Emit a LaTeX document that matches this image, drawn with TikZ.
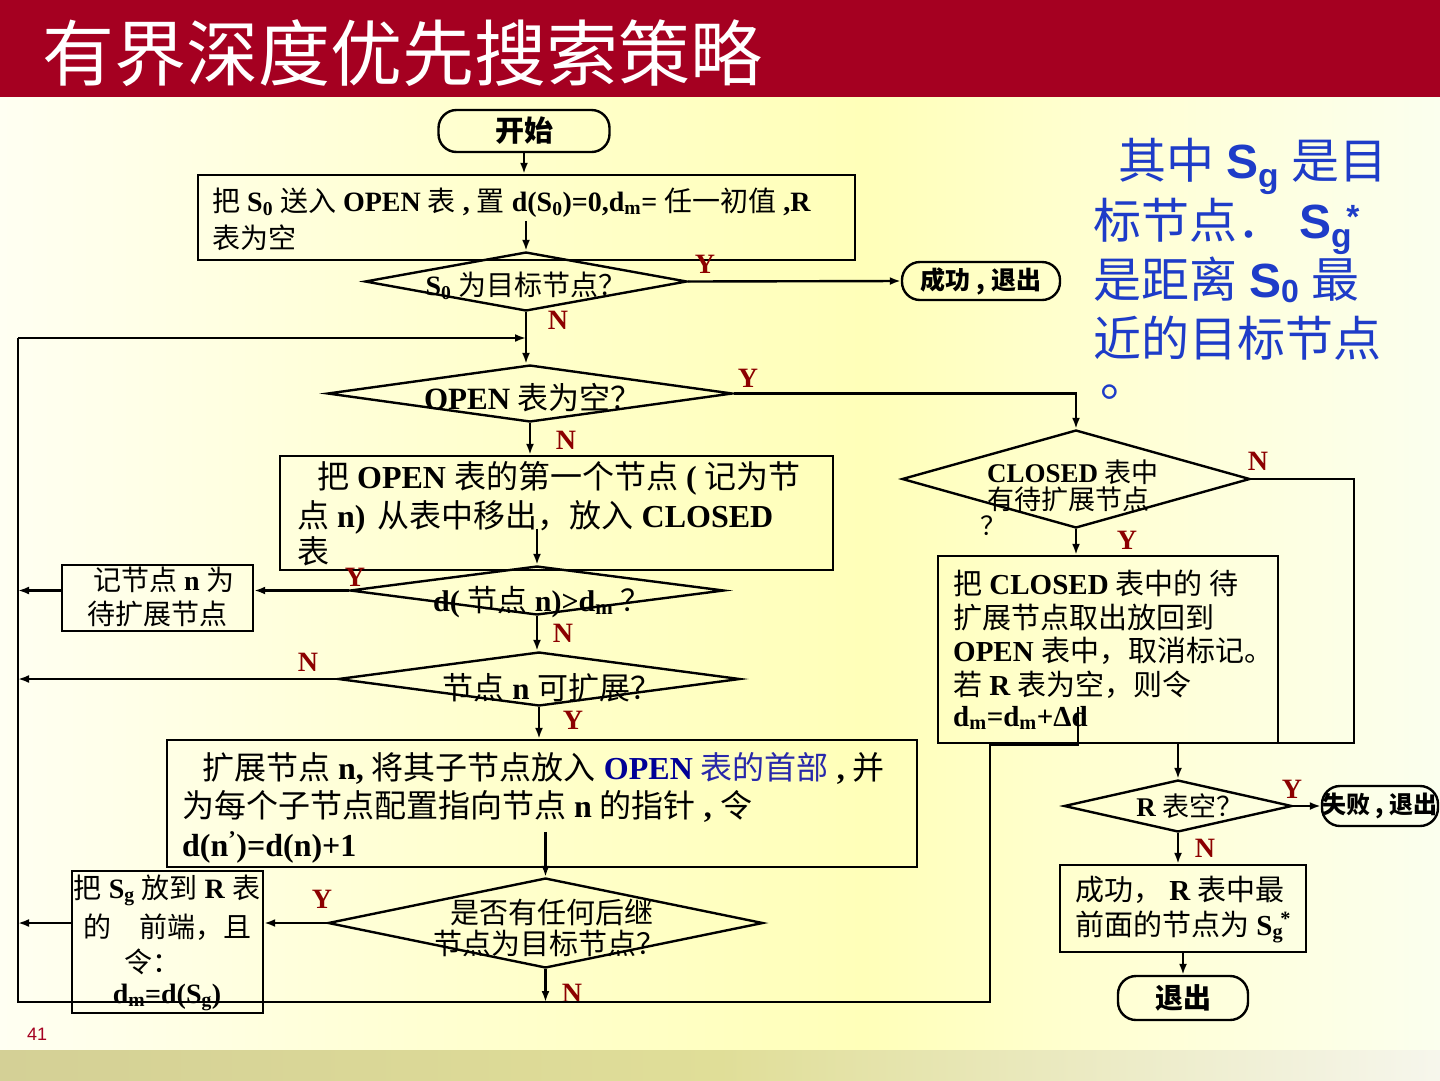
\documentclass[tikz,border=0pt]{standalone}
\usepackage{fontspec}
\setmainfont{Liberation Serif}
\newfontfamily\cjkf{Noto Sans CJK SC}
\newfontfamily\arialf{Liberation Sans}
\usetikzlibrary{shapes.geometric,arrows.meta,calc}
\definecolor{titlered}{RGB}{165,0,33}
\definecolor{ynred}{RGB}{140,0,0}
\definecolor{bluetxt}{RGB}{30,60,200}
\definecolor{openblue}{RGB}{0,0,150}
\definecolor{cjkblue}{RGB}{40,40,170}
\definecolor{bgA}{RGB}{255,255,242}
\definecolor{bgB}{RGB}{255,255,205}
\definecolor{bgC}{RGB}{255,255,185}
\definecolor{bgD}{RGB}{255,255,215}
\definecolor{bgE}{RGB}{251,255,238}
\definecolor{bdA}{RGB}{212,208,150}
\definecolor{bdB}{RGB}{224,222,152}
\definecolor{bdC}{RGB}{246,246,236}
\pgfdeclarehorizontalshading{bgsh}{100bp}{color(0bp)=(bgA); color(25bp)=(bgA); color(42bp)=(bgB); color(55bp)=(bgC); color(65bp)=(bgD); color(75bp)=(bgE); color(100bp)=(bgE)}
\pgfdeclarehorizontalshading{bdsh}{100bp}{color(0bp)=(bdA); color(25bp)=(bdA); color(50bp)=(bdB); color(75bp)=(bdC); color(100bp)=(bdC)}
\newcommand{\zh}[1]{{\cjkf #1}}
\newcommand{\Sub}[1]{\textsubscript{#1}}
\begin{document}
\begin{tikzpicture}[x=1pt,y=-1pt,
  ln/.style={line width=2.4pt},
  arr/.style={line width=2.4pt,-{Latex[length=11pt,width=8pt]}},
  boxn/.style={draw,line width=2.4pt,rectangle,inner sep=0},
  dia/.style={draw,line width=2.4pt,diamond,inner sep=0},
  stad/.style={draw,line width=2.4pt,rectangle,rounded corners=18pt,inner sep=0,font=\fontsize{29pt}{29pt}\selectfont\cjkf\bfseries},
  fs/.style={font=\fontsize{#1pt}{#1pt}\selectfont},
  tw/.style={inner sep=0,anchor=base west},
  tc/.style={inner sep=0,anchor=base},
  yn/.style={inner sep=0,text=ynred,font=\fontsize{28pt}{28pt}\selectfont\bfseries}]
\useasboundingbox (0,0) rectangle (1440,1080);
% background
\shade[shading=bgsh] (0,97) rectangle (1440,1050);
\shade[shading=bdsh] (0,1050) rectangle (1440,1080);
\fill[titlered] (0,0) rectangle (1440,97);
\node[tw,text=white,font=\fontsize{72pt}{72pt}\selectfont\cjkf] (title) at (42,80) {有界深度优先搜索策略};
\node[tw,text=titlered,font=\fontsize{18pt}{18pt}\selectfont\arialf] (pgno) at (27,1040) {41};

% right blue note
\begin{scope}[every node/.style={tw,text=bluetxt,font=\fontsize{48pt}{48pt}\selectfont}]
\node (b1) at (1118,178) {\zh{其中} {\arialf\bfseries S\Sub{g}} \zh{是目}};
\node (b2) at (1093,238) {\zh{标节点．}\hspace{14pt}{\arialf\bfseries S\Sub{g}\kern-0.12em\textsuperscript{*}}};
\node (b3) at (1093,297) {\zh{是距离} {\arialf\bfseries S\raisebox{-5pt}{\fontsize{32pt}{32pt}\selectfont 0}} \zh{最}};
\node (b4) at (1093,356) {\zh{近的目标节点}};
\node (b5) at (1100,396) {\zh{。}};
\end{scope}

% main nodes
\node[stad,minimum width=171pt,minimum height=42pt] (start) at (524,131) {开始};
\node[boxn,minimum width=657pt,minimum height=85pt] (init) at (526.5,217.5) {};
\node[tw,fs=28] (init1) at (212,211) {\zh{把} \textbf{S\Sub{0}} \zh{送入} \textbf{OPEN} \zh{表} \textbf{,} \zh{置} \textbf{d(S\Sub{0})=0,d\Sub{m}=} \zh{任一初值} \textbf{,R}};
\node[tw,fs=28] (init2) at (212,248) {\zh{表为空}};

\node[dia,minimum width=322pt,minimum height=59pt] (d1) at (526,281.5) {};
\node[tc,fs=28] (d1t) at (526,295) {\textbf{S\Sub{0}} \zh{为目标节点？}};
\node[stad,minimum width=158pt,minimum height=38pt,font=\fontsize{25pt}{25pt}\selectfont\cjkf\bfseries] (succ) at (981,281) {成功 , 退出};

\node[dia,minimum width=405pt,minimum height=57pt] (d2) at (530,393.5) {};
\node[tc,fs=31] (d2t) at (533,409) {\textbf{OPEN} \zh{表为空？}};

\node[boxn,minimum width=553pt,minimum height=114pt] (box7) at (556.5,513) {};
\node[tw,fs=32] (b7a) at (317,488) {\zh{把} \textbf{OPEN} \zh{表的第一个节点} \textbf{(} \zh{记为节}};
\node[tw,fs=32] (b7b) at (297,527) {\zh{点} \textbf{n)}\hspace{4pt} \zh{从表中移出，放入} \textbf{CLOSED}};
\node[tw,fs=32] (b7c) at (297,563) {\zh{表}};

\node[dia,minimum width=374pt,minimum height=49pt] (d3) at (537,590.5) {};
\node[tc,fs=30] (d3t) at (542,611) {\textbf{d(} \zh{节点} \textbf{n)>d\Sub{m}} \zh{？}};
\node[boxn,minimum width=191pt,minimum height=66pt] (mark) at (157.5,598) {};
\node[tc,fs=28] (mk1) at (164,590) {\zh{记节点} \textbf{n} \zh{为}};
\node[tc,fs=28] (mk2) at (157,624) {\zh{待扩展节点}};

\node[dia,minimum width=402pt,minimum height=54pt] (d4) at (539,679) {};
\node[tc,fs=31] (d4t) at (552,699) {\zh{节点} \textbf{n} \zh{可扩展？}};

\node[boxn,minimum width=750pt,minimum height=127pt] (box12) at (542,803.5) {};
\node[tw,fs=32] (b12a) at (202,779) {\zh{扩展节点} \textbf{n,} \zh{将其子节点放入} {\color{openblue}\textbf{OPEN}} {\color{cjkblue}\zh{表的首部}}\textbf{ ,} \zh{并}};
\node[tw,fs=32] (b12b) at (182,817) {\zh{为每个子节点配置指向节点} \textbf{n} \zh{的指针} \textbf{,} \zh{令}};
\node[tw,fs=32] (b12c) at (182,856) {\textbf{d(n\textsuperscript{'})=d(n)+1}};

\node[dia,minimum width=435pt,minimum height=90pt] (d5) at (545.5,923) {};
\node[tc,fs=29] (d5a) at (552,923) {\zh{是否有任何后继}};
\node[tc,fs=29] (d5b) at (549,954) {\zh{节点为目标节点？}};
\node[boxn,minimum width=191pt,minimum height=142pt] (sgb) at (167.5,942) {};
\node[tc,fs=28] (sg1) at (167,898) {\zh{把} \textbf{S\Sub{g}} \zh{放到} \textbf{R} \zh{表}};
\node[tc,fs=28] (sg2) at (167,937) {\zh{的\quad 前端，且}};
\node[tc,fs=28] (sg3) at (152,972) {\zh{令：}};
\node[tc,fs=28] (sg4) at (167,1003) {\textbf{d\Sub{m}=d(S\Sub{g})}};

% right column
\node[dia,minimum width=348pt,minimum height=98pt] (d6) at (1076,479) {};
\node[tw,fs=27] (d6a) at (987,482) {\textbf{CLOSED} \zh{表中}};
\node[tw,fs=27] (d6b) at (987,509) {\zh{有待扩展节点}};
\node[tw,fs=26] (d6c) at (980,535) {\zh{？}};
\node[boxn,minimum width=340pt,minimum height=187pt] (cbox) at (1108,649.5) {};
\node[tw,fs=29] (cb1) at (953,594) {\zh{把} \textbf{CLOSED} \zh{表中的 待}};
\node[tw,fs=29] (cb2) at (953,628) {\zh{扩展节点取出放回到}};
\node[tw,fs=29] (cb3) at (953,661) {\textbf{OPEN} \zh{表中，取消标记。}};
\node[tw,fs=29] (cb4) at (953,695) {\zh{若} \textbf{R} \zh{表为空，则令}};
\node[tw,fs=29] (cb5) at (953,726) {\textbf{d\Sub{m}=d\Sub{m}+Δd}};

\node[dia,minimum width=228pt,minimum height=52pt] (d7) at (1178,806) {};
\node[tc,fs=27] (d7t) at (1190,816) {\textbf{R} \zh{表空？}};
\node[stad,minimum width=116pt,minimum height=40pt,font=\fontsize{24pt}{24pt}\selectfont\cjkf\bfseries] (fail) at (1380,806) {失败 , 退出};
\node[boxn,minimum width=246pt,minimum height=87pt] (sbox) at (1183,908.5) {};
\node[tw,fs=29] (sb1) at (1075,900) {\zh{成功，} \textbf{R} \zh{表中最}};
\node[tw,fs=29] (sb2) at (1075,935) {\zh{前面的节点为} \textbf{S\Sub{g}\kern-0.1em\textsuperscript{*}}};
\node[stad,minimum width=130pt,minimum height=44pt,font=\fontsize{28pt}{28pt}\selectfont\cjkf\bfseries] (exit) at (1183,998) {退出};

% Y/N labels
\node[yn] (y1) at (705,264) {Y};
\node[yn] (n1) at (558,320) {N};
\node[yn] (y2) at (748,378) {Y};
\node[yn] (n2) at (566,440) {N};
\node[yn] (n3) at (1258,461) {N};
\node[yn] (y3) at (1127,540) {Y};
\node[yn] (y4) at (355,577) {Y};
\node[yn] (n4) at (563,633) {N};
\node[yn] (n5) at (308,662) {N};
\node[yn] (y5) at (573,720) {Y};
\node[yn] (y6) at (322,899) {Y};
\node[yn] (n6) at (572,993) {N};
\node[yn] (y7) at (1292,789) {Y};
\node[yn] (n7) at (1205,848) {N};

% loop coordinates
\coordinate (ca) at (1078,707);
\coordinate (cb) at (1078,745);
\coordinate (cc) at (990,745);
\coordinate (cd) at (990,1002);
\coordinate (ce) at (18,1002);
\coordinate (cf) at (18,338);
\coordinate (ra) at (1354,743);
\coordinate (rb) at (1178,743);

% connectors
\draw[arr] (start.south) -- (start.south |- init.north);
\draw[arr] ($(d1.north)+(0,-30)$) -- (d1.north);
\draw[arr] (d1.east) -- (succ.west);
\draw[arr] (d1.south) -- (d1.south |- d2.north);
\draw[ln] (ca) -- (cb) -- (cc) -- (cd) -- (ce) -- (cf);
\draw[arr] (cf) -- (cf -| d1.south);
\draw[arr] (d2.south) -- (d2.south |- box7.north);
\draw[arr] ($(d3.north)+(0,-36)$) -- (d3.north);
\draw[arr] (d3.west) -- (d3.west -| mark.east);
\draw[arr] (d3.west -| mark.west) -- (d3.west -| cf);
\draw[arr] (d3.south) -- (d3.south |- d4.north);
\draw[arr] (d4.west) -- (d4.west -| cf);
\draw[arr] (d4.south) -- (d4.south |- box12.north);
\draw[arr] ($(d5.north)+(0,-45)$) -- (d5.north);
\draw[arr] (d5.west) -- (d5.west -| sgb.east);
\draw[arr] (d5.west -| sgb.west) -- (d5.west -| cf);
\draw[arr] (d5.south) -- (d5.south |- cd);
\draw[arr] (d2.east) -| (d6.north);
\draw[arr] (d6.south) -- (d6.south |- cbox.north);
\draw[ln] (d6.east) -| (ra) -- (rb);
\draw[arr] (rb) -- (d7.north);
\draw[arr] (d7.east) -- (fail.west);
\draw[arr] (d7.south) -- (d7.south |- sbox.north);
\draw[arr] (sbox.south) -- (exit.north);
\end{tikzpicture}
\end{document}
